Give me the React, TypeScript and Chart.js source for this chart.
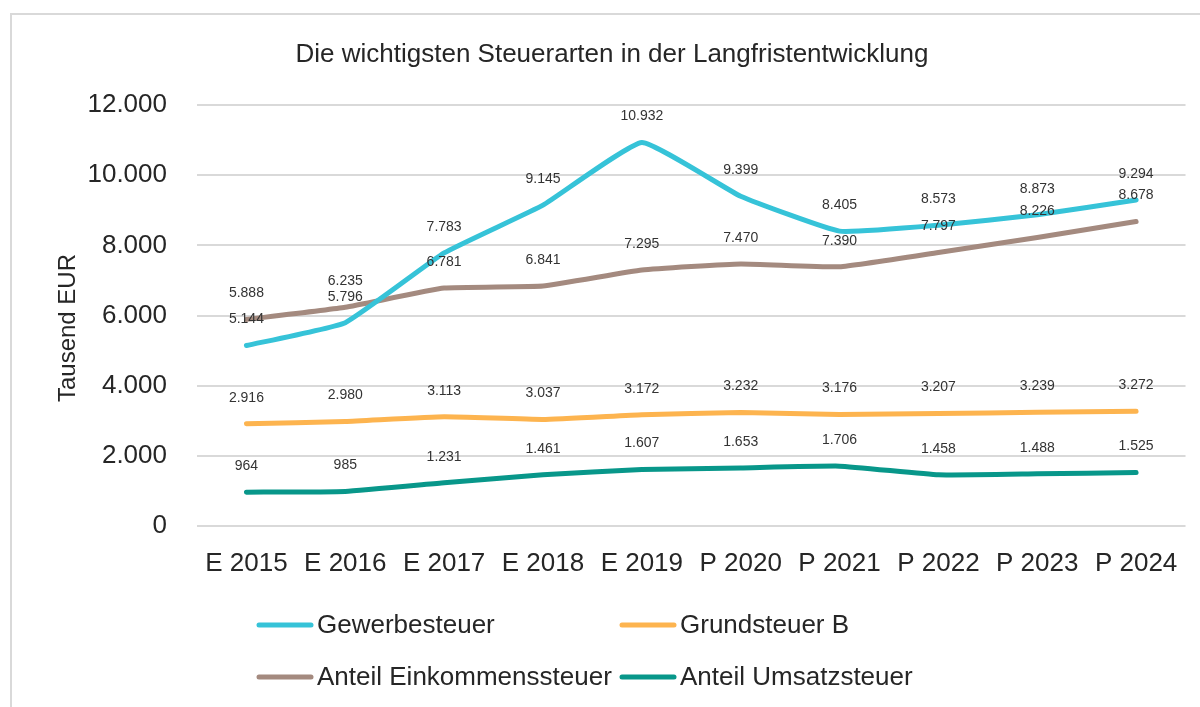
import React, { useEffect, useRef } from "react";
import { Chart, registerables } from "chart.js";

Chart.register(...registerables);

const categories = ["E 2015", "E 2016", "E 2017", "E 2018", "E 2019", "P 2020", "P 2021", "P 2022", "P 2023", "P 2024"];
const gewerbesteuer = [5144, 5796, 7783, 9145, 10932, 9399, 8405, 8573, 8873, 9294];
const einkommensteuer = [5888, 6235, 6781, 6841, 7295, 7470, 7390, 7797, 8226, 8678];
const grundsteuerB = [2916, 2980, 3113, 3037, 3172, 3232, 3176, 3207, 3239, 3272];
const umsatzsteuer = [964, 985, 1231, 1461, 1607, 1653, 1706, 1458, 1488, 1525];

const seriesNames = ["Gewerbesteuer", "Anteil Einkommenssteuer", "Grundsteuer B", "Anteil Umsatzsteuer"];
const seriesColors = ["#36C3D8", "#A48A7F", "#FDB44F", "#08978A"];
const legendOrder = [0, 2, 1, 3];

const titleText = "Die wichtigsten Steuerarten in der Langfristentwicklung";
const yAxisTitle = "Tausend EUR";
const yMin = 0;
const yMax = 12000;
const yStep = 2000;

const FONT = "'Liberation Sans', Arial, sans-serif";
const TEXT = "#262626";

function fmt(v: number): string {
  const s = Math.round(v).toString();
  return s.replace(/\B(?=(\d{3})+(?!\d))/g, ".");
}

const overlayPlugin = {
  id: "overlay",
  afterDraw(chart: any) {
    const ctx = chart.ctx as CanvasRenderingContext2D;
    ctx.save();
    // frame
    ctx.strokeStyle = "#D9D9D9";
    ctx.lineWidth = 2;
    ctx.beginPath();
    ctx.moveTo(11, 710);
    ctx.lineTo(11, 14);
    ctx.lineTo(1205, 14);
    ctx.stroke();

    // title
    ctx.fillStyle = TEXT;
    ctx.font = `26px ${FONT}`;
    ctx.textAlign = "center";
    ctx.textBaseline = "alphabetic";
    ctx.fillText(titleText, 612, 62);

    // y axis title
    ctx.save();
    ctx.translate(75, 328);
    ctx.rotate(-Math.PI / 2);
    ctx.font = `24px ${FONT}`;
    ctx.textAlign = "center";
    ctx.textBaseline = "alphabetic";
    ctx.fillText(yAxisTitle, 0, 0);
    ctx.restore();

    // data labels
    ctx.font = `14px ${FONT}`;
    ctx.fillStyle = "#333333";
    ctx.textAlign = "center";
    ctx.textBaseline = "middle";
    chart.data.datasets.forEach((ds: any, i: number) => {
      const meta = chart.getDatasetMeta(i);
      meta.data.forEach((el: any, j: number) => {
        ctx.fillText(fmt(ds.data[j]), el.x, el.y - 26);
      });
    });

    // legend
    const colX = [257, 620];
    const rowY = [625, 677];
    ctx.font = `26px ${FONT}`;
    ctx.textAlign = "left";
    ctx.textBaseline = "middle";
    legendOrder.forEach((dsIndex, k) => {
      const col = k % 2;
      const row = Math.floor(k / 2);
      const x = colX[col];
      const y = rowY[row];
      const ds = chart.data.datasets[dsIndex];
      ctx.strokeStyle = ds.borderColor;
      ctx.lineWidth = 5;
      ctx.lineCap = "round";
      ctx.beginPath();
      ctx.moveTo(x + 2, y);
      ctx.lineTo(x + 54, y);
      ctx.stroke();
      ctx.fillStyle = TEXT;
      ctx.fillText(ds.label, x + 60, y + 1);
    });
    ctx.restore();
  },
};

export default function App() {
  const canvasRef = useRef<HTMLCanvasElement | null>(null);

  useEffect(() => {
    const canvas = canvasRef.current;
    if (!canvas) return;
    const seriesData = [gewerbesteuer, einkommensteuer, grundsteuerB, umsatzsteuer];
    const chart = new Chart(canvas, {
      type: "line",
      data: {
        labels: categories,
        datasets: seriesData.map((d, i) => ({
          label: seriesNames[i],
          data: d,
          borderColor: seriesColors[i],
          backgroundColor: seriesColors[i],
          borderWidth: 5,
          pointRadius: 0,
          pointHoverRadius: 0,
          tension: 0.12,
          borderCapStyle: "round" as const,
          borderJoinStyle: "round" as const,
          fill: false,
        })),
      },
      options: {
        responsive: false,
        animation: false,
        devicePixelRatio: 1,
        layout: { padding: { left: 0, top: 105, right: 14, bottom: 121 } },
        plugins: {
          legend: { display: false },
          title: { display: false },
          tooltip: { enabled: false },
        },
        scales: {
          x: {
            offset: true,
            grid: { display: false, drawTicks: false },
            border: { display: false },
            ticks: {
              color: TEXT,
              font: { family: FONT, size: 26 },
              padding: 22,
              maxRotation: 0,
              autoSkip: false,
            },
            afterFit: (scale: any) => {
              scale.height = 60;
            },
          },
          y: {
            min: yMin,
            max: yMax,
            grid: { color: "#D9D9D9", lineWidth: 2, drawTicks: false },
            border: { display: false },
            ticks: {
              stepSize: yStep,
              color: TEXT,
              font: { family: FONT, size: 26 },
              padding: 30,
              callback: (v: any) => fmt(Number(v)),
            },
            afterFit: (scale: any) => {
              scale.width = 197;
            },
          },
        },
      },
      plugins: [overlayPlugin],
    });
    return () => chart.destroy();
  }, []);

  return (
    <div style={{ position: "absolute", left: 0, top: 0, width: 1200, height: 707, background: "#fff" }}>
      <canvas ref={canvasRef} width={1200} height={707} />
    </div>
  );
}
